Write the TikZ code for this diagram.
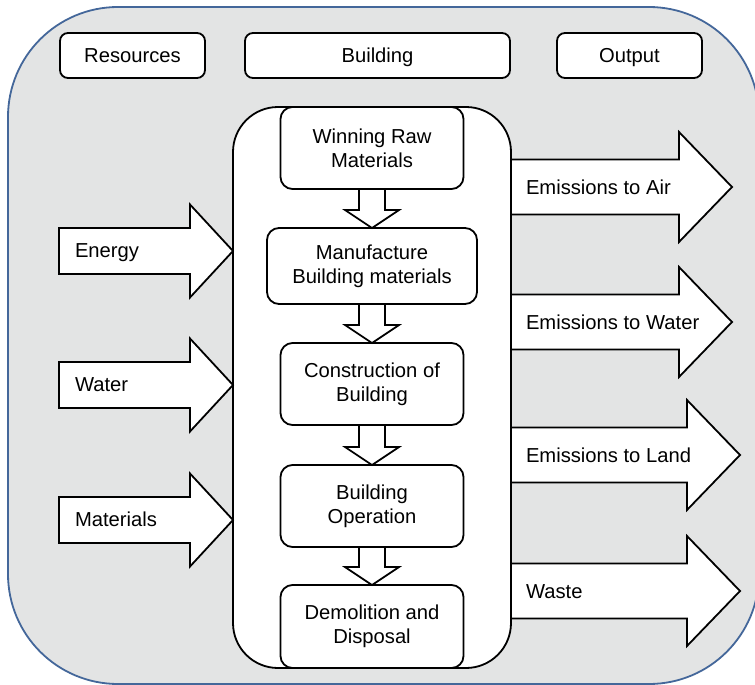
\documentclass[tikz,border=0pt]{standalone}
\usepackage{fontspec}
\setmainfont{Liberation Sans}
\usetikzlibrary{calc}
\definecolor{framefill}{HTML}{E3E4E4}
\definecolor{frameblue}{HTML}{44679A}
\tikzset{
  txt/.style={font=\fontsize{20.2}{24}\selectfont},
  frame/.style={draw=frameblue, fill=framefill, line width=1.8pt, rounded corners=110pt, inner sep=0pt, outer sep=0pt},
  headbox/.style={txt, draw, fill=white, line width=1.8pt, rounded corners=8pt, minimum height=45pt, inner sep=0pt, outer sep=0pt, text height=14pt, text depth=0pt},
  corebox/.style={draw, fill=white, line width=1.8pt, rounded corners=45pt, inner sep=0pt, outer sep=0pt},
  stagebox/.style={txt, draw, fill=white, line width=1.8pt, rounded corners=12pt, align=center, inner sep=0pt, outer sep=0pt},
  blockarrow/.style={draw, fill=white, line width=1.8pt, line join=miter},
  lbl/.style={txt, inner sep=0pt, outer sep=0pt, anchor=base west}
}
% horizontal block arrow: #1 start, #2 tip, #3 shaft half width, #4 head half width, #5 head length
\newcommand\hblockarrow[5]{%
  \draw[blockarrow] let \p1=(#1), \p2=(#2) in
    (\x1,\y1+#3) -- (\x2-#5,\y1+#3) -- (\x2-#5,\y1+#4) -- (\x2,\y1)
    -- (\x2-#5,\y1-#4) -- (\x2-#5,\y1-#3) -- (\x1,\y1-#3) -- cycle;}
% vertical block arrow between two stage boxes
\newcommand\vblockarrow[2]{%
  \draw[blockarrow] let \p1=(#1.south), \p2=(#2.north) in
    (\x1-13pt,\y1) -- (\x1-13pt,\y2+18pt) -- (\x1-27pt,\y2+18pt) -- (\x1,\y2)
    -- (\x1+27pt,\y2+18pt) -- (\x1+13pt,\y2+18pt) -- (\x1+13pt,\y1) -- cycle;}
\begin{document}
\begin{tikzpicture}[x=1pt, y=-1pt]
\useasboundingbox (0,0) rectangle (755,685);
% background frame
\node[frame, minimum width=751pt, minimum height=677pt] (frame) at (383.5,345.5) {};
% header boxes
\node[headbox, minimum width=145pt] (res) at (132.5,55.5) {Resources};
\node[headbox, minimum width=265pt] (bld) at (377.5,55.5) {Building};
\node[headbox, minimum width=145pt] (out) at (629.5,55.5) {Output};
% core container
\node[corebox, minimum width=278pt, minimum height=561pt] (core) at (372,387.5) {};
% stages
\node[stagebox, minimum width=183pt, minimum height=82pt] (s1) at (372,148) {Winning Raw\\Materials};
\node[stagebox, minimum width=210pt, minimum height=76pt] (s2) at (372,266) {Manufacture\\Building materials};
\node[stagebox, minimum width=183pt, minimum height=82pt] (s3) at (372,384) {Construction of\\Building};
\node[stagebox, minimum width=183pt, minimum height=82pt] (s4) at (372,506) {Building\\Operation};
\node[stagebox, minimum width=183pt, minimum height=83pt] (s5) at (372,626.5) {Demolition and\\Disposal};
\vblockarrow{s1}{s2}
\vblockarrow{s2}{s3}
\vblockarrow{s3}{s4}
\vblockarrow{s4}{s5}
% input arrows
\coordinate (inE) at (59,251);
\coordinate (inW) at (59,385);
\coordinate (inM) at (59,520);
\hblockarrow{inE}{inE -| core.west}{23pt}{46.5pt}{43pt}
\hblockarrow{inW}{inW -| core.west}{23pt}{46.5pt}{43pt}
\hblockarrow{inM}{inM -| core.west}{23pt}{46.5pt}{43pt}
\node[lbl] (lE) at (75,257) {Energy};
\node[lbl] (lW) at (75,391) {Water};
\node[lbl] (lM) at (75,526) {Materials};
% output arrows
\coordinate (oA) at (732,187);
\coordinate (oW) at (732,322);
\coordinate (oL) at (740,455);
\coordinate (oS) at (740,591);
\hblockarrow{core.east |- oA}{oA}{27.5pt}{55pt}{53pt}
\hblockarrow{core.east |- oW}{oW}{27.5pt}{55pt}{53pt}
\hblockarrow{core.east |- oL}{oL}{27.5pt}{55pt}{53pt}
\hblockarrow{core.east |- oS}{oS}{27.5pt}{55pt}{53pt}
\node[lbl] (lA) at (526,194) {Emissions to Air};
\node[lbl] (lWa) at (526,329) {Emissions to Water};
\node[lbl] (lL) at (526,462) {Emissions to Land};
\node[lbl] (lS) at (526,598) {Waste};
\end{tikzpicture}
\end{document}
